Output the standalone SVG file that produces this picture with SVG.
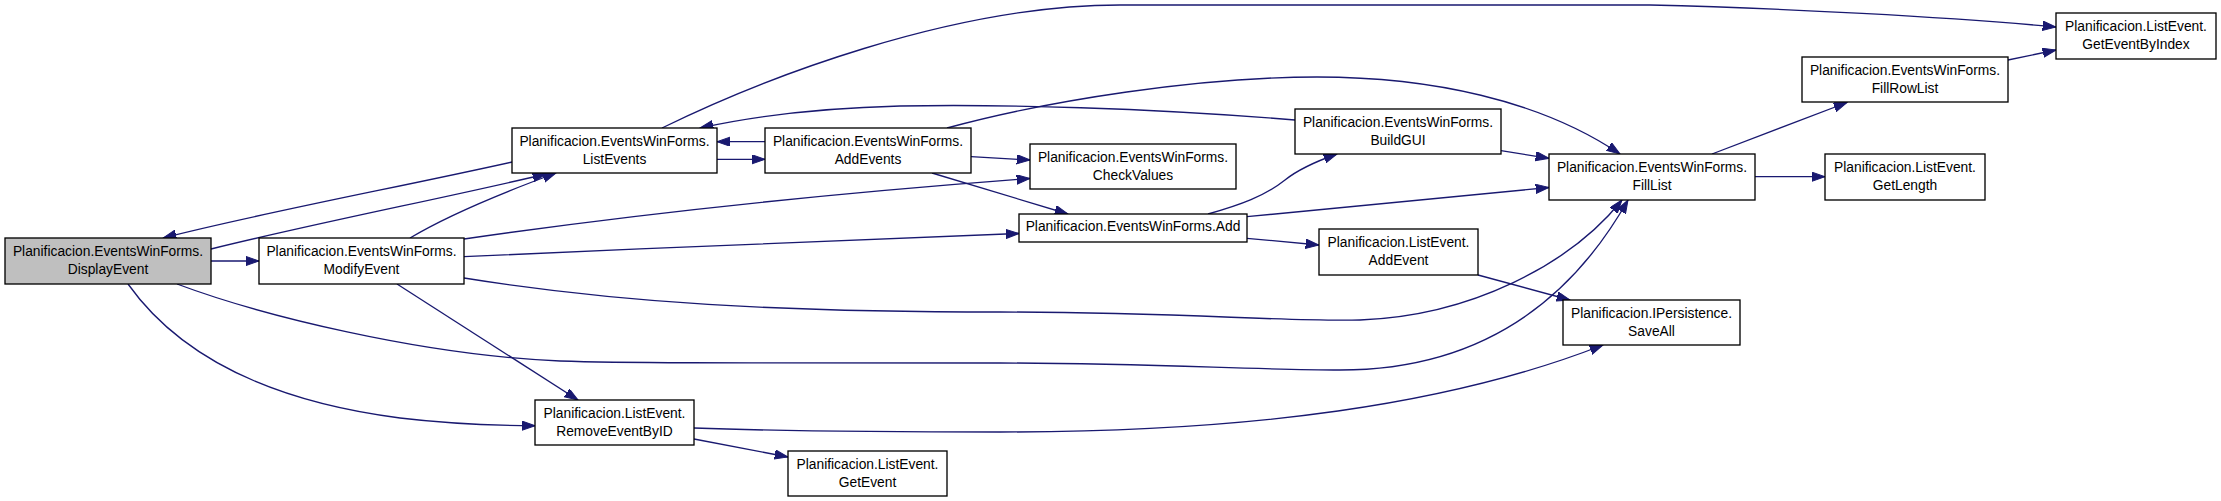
<svg xmlns="http://www.w3.org/2000/svg" width="2221" height="501" viewBox="0 0 2221 501">
<style>
.n rect{fill:#fff;stroke:#000;stroke-width:1.33}
.n.root rect{fill:#bfbfbf}
.n text{font-family:"Liberation Sans",Arial,Helvetica,sans-serif;font-size:13.8px;fill:#000;text-anchor:middle}
.e path{fill:none;stroke:#191970;stroke-width:1.33;marker-end:url(#ah)}
</style>
<defs>
<marker id="ah" markerUnits="userSpaceOnUse" markerWidth="14" markerHeight="10" refX="13.3" refY="4.67" orient="auto" viewBox="0 0 14 10">
<path d="M0,0 L13.3,4.67 L0,9.33 z" fill="#191970" stroke="#191970" stroke-width="1"/>
</marker>
</defs>
<rect width="2221" height="501" fill="#fff"/>
<g id="connectors" class="e">
<path d="M211,261 L259,261"/>
<path d="M211,249 C 320,222 450,197 546,174"/>
<path d="M512,162 C 400,187 260,213 163,238"/>
<path d="M410,238 C 450,214 510,190 556,173"/>
<path d="M717,159.3 L765,159.3"/>
<path d="M765,141.7 L717,141.7"/>
<path d="M1295,120 C 1150,108 1000,104 900,106 C 820,108 750,117 700,128"/>
<path d="M662,128 C 760,80 950,5 1120,5 L 1650,5 C 1780,8 1950,17 2056,27"/>
<path d="M947,128 C 1050,100 1200,77 1317,77 C 1430,77 1540,100 1620,154"/>
<path d="M971,156.7 L1030,160"/>
<path d="M932,173 L1068,214"/>
<path d="M464,239 C 650,212 850,192 1030,178.5"/>
<path d="M464,256.7 C 650,248 850,240 1019,233.5"/>
<path d="M464,278 C 620,303 780,312 1000,312 C 1180,312 1280,322 1360,320 C 1470,316 1570,265 1622,200"/>
<path d="M177,284 C 260,315 420,355 560,361 C 620,363 700,363 1000,363 C 1150,363 1250,370 1340,370 C 1460,370 1560,320 1628,200"/>
<path d="M397,284 L578,400"/>
<path d="M128,284 C 175,350 260,400 400,418 C 450,424 500,425.5 535,425.7"/>
<path d="M694,428 C 800,432 900,432 1000,432 C 1250,432 1450,405 1603,345"/>
<path d="M694,439 L788,457"/>
<path d="M1208,214 C 1240,205 1265,196 1285,180 C 1300,168 1320,160 1337,154"/>
<path d="M1247,216.7 L1549,187.5"/>
<path d="M1247,238.3 L1319,245"/>
<path d="M1501,150.7 L1549,158.3"/>
<path d="M1478,275 L1570,300"/>
<path d="M1712,154 L1847,102.5"/>
<path d="M1755,176.7 L1825,176.7"/>
<path d="M2008,60 L2056,50"/>
</g>
<g id="DisplayEvent" class="n root"><rect x="5" y="238" width="206" height="46"/><text x="108" y="256">Planificacion.EventsWinForms.</text><text x="108" y="273.5">DisplayEvent</text></g>
<g id="ModifyEvent" class="n"><rect x="259" y="238" width="205" height="46"/><text x="361.5" y="256">Planificacion.EventsWinForms.</text><text x="361.5" y="273.5">ModifyEvent</text></g>
<g id="ListEvents" class="n"><rect x="512" y="128" width="205" height="45"/><text x="614.5" y="146">Planificacion.EventsWinForms.</text><text x="614.5" y="163.5">ListEvents</text></g>
<g id="AddEvents" class="n"><rect x="765" y="128" width="206" height="45"/><text x="868" y="146">Planificacion.EventsWinForms.</text><text x="868" y="163.5">AddEvents</text></g>
<g id="CheckValues" class="n"><rect x="1030" y="144" width="206" height="45"/><text x="1133" y="162">Planificacion.EventsWinForms.</text><text x="1133" y="179.5">CheckValues</text></g>
<g id="Add" class="n"><rect x="1019" y="214" width="228" height="28"/><text x="1133" y="231">Planificacion.EventsWinForms.Add</text></g>
<g id="BuildGUI" class="n"><rect x="1295" y="109" width="206" height="45"/><text x="1398" y="127">Planificacion.EventsWinForms.</text><text x="1398" y="144.5">BuildGUI</text></g>
<g id="AddEvent" class="n"><rect x="1319" y="229" width="159" height="46"/><text x="1398.5" y="247">Planificacion.ListEvent.</text><text x="1398.5" y="264.5">AddEvent</text></g>
<g id="RemoveEventByID" class="n"><rect x="535" y="400" width="159" height="45"/><text x="614.5" y="418">Planificacion.ListEvent.</text><text x="614.5" y="435.5">RemoveEventByID</text></g>
<g id="GetEvent" class="n"><rect x="788" y="451" width="159" height="45"/><text x="867.5" y="469">Planificacion.ListEvent.</text><text x="867.5" y="486.5">GetEvent</text></g>
<g id="FillList" class="n"><rect x="1549" y="154" width="206" height="46"/><text x="1652" y="172">Planificacion.EventsWinForms.</text><text x="1652" y="189.5">FillList</text></g>
<g id="SaveAll" class="n"><rect x="1563" y="300" width="177" height="45"/><text x="1651.5" y="318">Planificacion.IPersistence.</text><text x="1651.5" y="335.5">SaveAll</text></g>
<g id="FillRowList" class="n"><rect x="1802" y="57" width="206" height="45"/><text x="1905" y="75">Planificacion.EventsWinForms.</text><text x="1905" y="92.5">FillRowList</text></g>
<g id="GetLength" class="n"><rect x="1825" y="154" width="160" height="46"/><text x="1905" y="172">Planificacion.ListEvent.</text><text x="1905" y="189.5">GetLength</text></g>
<g id="GetEventByIndex" class="n"><rect x="2056" y="13" width="160" height="46"/><text x="2136" y="31">Planificacion.ListEvent.</text><text x="2136" y="48.5">GetEventByIndex</text></g>
</svg>
